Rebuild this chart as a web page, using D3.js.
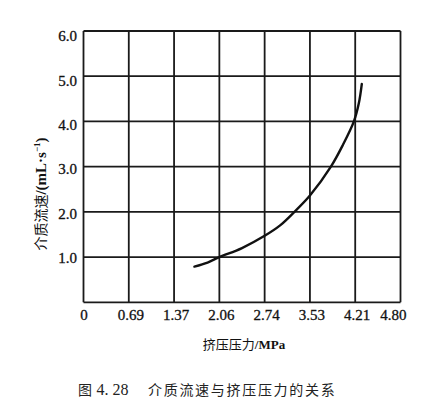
<!DOCTYPE html>
<html><head><meta charset="utf-8">
<script src="https://cdn.jsdelivr.net/npm/d3@7"></script>
<style>
html,body{margin:0;padding:0;background:#fff;}
svg{display:block;}
</style></head>
<body>
<script>
const xTicks = [0, 0.69, 1.37, 2.06, 2.74, 3.53, 4.21, 4.80];
const xTickLabels = ["0", "0.69", "1.37", "2.06", "2.74", "3.53", "4.21", "4.80"];
const yTicks = [1, 2, 3, 4, 5, 6];
const yTickLabels = ["1.0", "2.0", "3.0", "4.0", "5.0", "6.0"];
const pressure = [1.68, 1.88, 2.06, 2.40, 2.74, 3.01, 3.26, 3.53, 3.845, 4.025, 4.19, 4.257, 4.296];
const flowRate = [0.79, 0.88, 1.00, 1.20, 1.47, 1.70, 2.00, 2.36, 3.00, 3.48, 4.00, 4.40, 4.83];
const xTitleCJK = "挤压压力";
const xTitleUnit = "/MPa";
const yTitleCJK = "介质流速";
const yTitleUnit = "/(mL·s";
const yTitleSup = "−1";
const captionFig = "图";
const captionNum = "4. 28";
const captionText = "介质流速与挤压压力的关系";

(function () {
const W = 430, H = 401;
const pL = 83.5, pR = 400.5, pT = 31, pB = 302.3;

const svg = d3.select("body").append("svg").attr("width", W).attr("height", H);
svg.append("rect").attr("width", W).attr("height", H).attr("fill", "#fff");

const step = (pR - pL) / (xTicks.length - 1);
const x = d3.scaleLinear().domain(xTicks).range(xTicks.map((d, i) => pL + i * step));
const y = d3.scaleLinear().domain([0, 6]).range([pB, pT]);
const yLab = d3.scaleLinear().domain([0, 6]).range([302.7, 36.2]);

const g = svg.append("g");
const stroke = "#1a1a1a";

g.selectAll("line.vx").data(xTicks).enter().append("line")
  .attr("x1", d => x(d)).attr("x2", d => x(d))
  .attr("y1", pT).attr("y2", pB)
  .attr("stroke", stroke).attr("stroke-width", 1.8);
g.selectAll("line.hy").data([0].concat(yTicks)).enter().append("line")
  .attr("x1", pL).attr("x2", pR)
  .attr("y1", d => y(d)).attr("y2", d => y(d))
  .attr("stroke", stroke).attr("stroke-width", 1.8);

const numFont = "'Liberation Serif','Times New Roman',serif";
const cjkFont = "'Noto Sans CJK SC',sans-serif";

g.selectAll("text.xt").data(xTicks).enter().append("text")
  .attr("x", (d, i) => i === xTicks.length - 1 ? x(d) + 6 : x(d) + (i === 0 ? 0.5 : 2))
  .attr("y", 320)
  .attr("text-anchor", (d, i) => i === xTicks.length - 1 ? "end" : "middle")
  .attr("font-family", numFont).attr("font-size", 15).attr("fill", "#111")
  .attr("stroke", "#111").attr("stroke-width", 0.3)
  .text((d, i) => xTickLabels[i]);

g.selectAll("text.yt").data(yTicks).enter().append("text")
  .attr("x", 77).attr("y", d => yLab(d)).attr("dy", "0.33em")
  .attr("text-anchor", "end")
  .attr("font-family", numFont).attr("font-size", 15).attr("fill", "#111")
  .attr("stroke", "#111").attr("stroke-width", 0.3)
  .text((d, i) => yTickLabels[i]);

const pts = pressure.map((p, i) => [p, flowRate[i]]);
const line = d3.line().x(d => x(d[0])).y(d => y(d[1])).curve(d3.curveCatmullRom.alpha(0.5));
g.append("path").attr("d", line(pts)).attr("fill", "none")
  .attr("stroke", "#111").attr("stroke-width", 2.4).attr("stroke-linecap", "round");

// x title
const xt = svg.append("text").attr("x", 244).attr("y", 349).attr("text-anchor", "middle")
  .attr("fill", "#111");
xt.append("tspan").attr("font-family", cjkFont).attr("font-size", 13).text(xTitleCJK);
xt.append("tspan").attr("font-family", numFont).attr("font-size", 13).attr("font-weight", "bold").text(xTitleUnit);

// y title
const yt = svg.append("text").attr("transform", "translate(45.5,194) rotate(-90)").attr("text-anchor", "middle")
  .attr("fill", "#111");
yt.append("tspan").attr("font-family", cjkFont).attr("font-size", 14).text(yTitleCJK);
yt.append("tspan").attr("font-family", numFont).attr("font-size", 15).attr("font-weight", "bold").text(yTitleUnit);
yt.append("tspan").attr("font-family", numFont).attr("font-size", 9).attr("font-weight", "bold").attr("dy", -6).text(yTitleSup);
yt.append("tspan").attr("font-family", numFont).attr("font-size", 15).attr("font-weight", "bold").attr("dy", 6).text(")");

// caption
const cap = svg.append("g").attr("fill", "#222");
cap.append("text").attr("x", 78).attr("y", 395).attr("font-family", cjkFont).attr("font-size", 14).text(captionFig);
cap.append("text").attr("x", 96.5).attr("y", 395).attr("font-family", numFont).attr("font-size", 16).text(captionNum);
cap.append("text").attr("x", 148).attr("y", 395).attr("font-family", cjkFont).attr("font-size", 14)
  .attr("letter-spacing", 1.7).text(captionText);
})();
</script>
</body></html>
